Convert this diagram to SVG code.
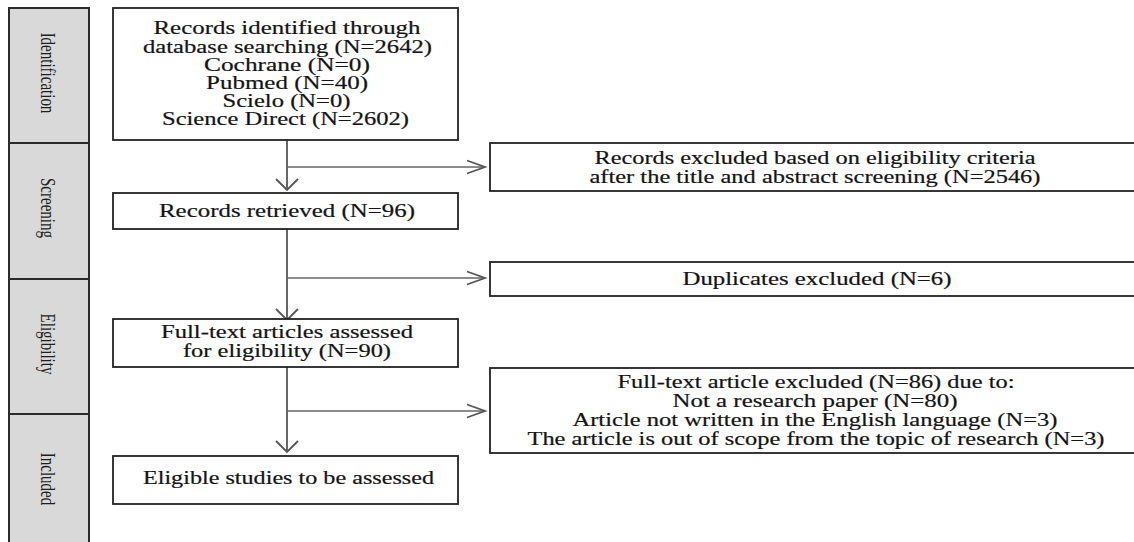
<svg xmlns="http://www.w3.org/2000/svg" width="1134" height="542" viewBox="0 0 1134 542">
<style>
.bg{fill:#ffffff}
.phase{fill:#d9d9d9;stroke:#2b2b2b;stroke-width:2}
.box{fill:#ffffff;stroke:#222222;stroke-width:1.8}
.t{font-family:"Liberation Serif","Times New Roman",serif;font-size:18px;fill:#141414;stroke:#141414;stroke-width:0.2;text-anchor:middle}
.pt{font-family:"Liberation Serif","Times New Roman",serif;font-size:15px;fill:#1e1e1e;text-anchor:middle}
.ln{fill:none;stroke:#666666;stroke-width:2}
.br{fill:none;stroke:#666666;stroke-width:1.6}
.ah{fill:none;stroke:#555555;stroke-width:1.8;stroke-linejoin:miter}
</style>
<rect class="bg" x="0" y="0" width="1134" height="542"/>

<g id="phases">
  <g id="phase-identification">
    <rect class="phase" x="9" y="8" width="80" height="135"/>
    <text class="pt" transform="translate(41,73) rotate(90) scale(1,1.42)">Identification</text>
  </g>
  <g id="phase-screening">
    <rect class="phase" x="9" y="143" width="80" height="136"/>
    <text class="pt" transform="translate(41,208) rotate(90) scale(1,1.42)">Screening</text>
  </g>
  <g id="phase-eligibility">
    <rect class="phase" x="9" y="279" width="80" height="135"/>
    <text class="pt" transform="translate(41,344) rotate(90) scale(1,1.42)">Eligibility</text>
  </g>
  <g id="phase-included">
    <rect class="phase" x="9" y="414" width="80" height="140"/>
    <text class="pt" transform="translate(41,479) rotate(90) scale(1,1.42)">Included</text>
  </g>
</g>

<g id="connectors">
  <line class="ln" x1="287" y1="140" x2="287" y2="189"/>
  <line class="ln" x1="287" y1="229" x2="287" y2="319"/>
  <line class="ln" x1="287" y1="367" x2="287" y2="451"/>
  <line class="br" x1="287" y1="167" x2="485" y2="167"/>
  <line class="br" x1="287" y1="278" x2="485" y2="278"/>
  <line class="br" x1="287" y1="411" x2="485" y2="411"/>
  <polyline class="ah" points="276,179 287,190 298,179"/>
  <polyline class="ah" points="276,309 287,320 298,309"/>
  <polyline class="ah" points="276,441 287,452 298,441"/>
  <polyline class="ah" points="467,160.5 485,167 467,173.5"/>
  <polyline class="ah" points="467,271.5 485,278 467,284.5"/>
  <polyline class="ah" points="467,404.5 485,411 467,417.5"/>
</g>

<g id="node-identified">
  <rect class="box" x="113" y="8" width="345" height="132"/>
  <g transform="scale(1.35,1)">
    <text class="t" x="212.59" y="34.5" textLength="197.8" lengthAdjust="spacingAndGlyphs">Records identified through</text>
    <text class="t" x="212.96" y="52.7" textLength="214.1" lengthAdjust="spacingAndGlyphs">database searching (N=2642)</text>
    <text class="t" x="212.59" y="70.9" textLength="123" lengthAdjust="spacingAndGlyphs">Cochrane (N=0)</text>
    <text class="t" x="212.59" y="89.1" textLength="120" lengthAdjust="spacingAndGlyphs">Pubmed (N=40)</text>
    <text class="t" x="212.22" y="107.3" textLength="94.8" lengthAdjust="spacingAndGlyphs">Scielo (N=0)</text>
    <text class="t" x="211.48" y="125.5" textLength="183" lengthAdjust="spacingAndGlyphs">Science Direct (N=2602)</text>
  </g>
</g>

<g id="node-excluded-screening">
  <rect class="box" x="490" y="143" width="660" height="48"/>
  <g transform="scale(1.35,1)">
    <text class="t" x="603.7" y="164" textLength="326.7" lengthAdjust="spacingAndGlyphs">Records excluded based on eligibility criteria</text>
    <text class="t" x="603.7" y="183" textLength="334.1" lengthAdjust="spacingAndGlyphs">after the title and abstract screening (N=2546)</text>
  </g>
</g>

<g id="node-retrieved">
  <rect class="box" x="113" y="193" width="345" height="36"/>
  <g transform="scale(1.35,1)">
    <text class="t" x="212.59" y="217.5" textLength="189.6" lengthAdjust="spacingAndGlyphs">Records retrieved (N=96)</text>
  </g>
</g>

<g id="node-duplicates">
  <rect class="box" x="490" y="262" width="660" height="34"/>
  <g transform="scale(1.35,1)">
    <text class="t" x="605.19" y="285" textLength="199.3" lengthAdjust="spacingAndGlyphs">Duplicates excluded (N=6)</text>
  </g>
</g>

<g id="node-fulltext">
  <rect class="box" x="113" y="319" width="345" height="48"/>
  <g transform="scale(1.35,1)">
    <text class="t" x="212.59" y="338.5" textLength="186.7" lengthAdjust="spacingAndGlyphs">Full-text articles assessed</text>
    <text class="t" x="212.59" y="357" textLength="154.1" lengthAdjust="spacingAndGlyphs">for eligibility (N=90)</text>
  </g>
</g>

<g id="node-excluded-fulltext">
  <rect class="box" x="490" y="368" width="660" height="85"/>
  <g transform="scale(1.35,1)">
    <text class="t" x="604.44" y="388.5" textLength="294.1" lengthAdjust="spacingAndGlyphs">Full-text article excluded (N=86) due to:</text>
    <text class="t" x="603.7" y="407.5" textLength="211.1" lengthAdjust="spacingAndGlyphs">Not a research paper (N=80)</text>
    <text class="t" x="603.7" y="426" textLength="359.3" lengthAdjust="spacingAndGlyphs">Article not written in the English language (N=3)</text>
    <text class="t" x="604.44" y="445" textLength="427.4" lengthAdjust="spacingAndGlyphs">The article is out of scope from the topic of research (N=3)</text>
  </g>
</g>

<g id="node-included">
  <rect class="box" x="113" y="456" width="345" height="48"/>
  <g transform="scale(1.35,1)">
    <text class="t" x="213.7" y="484" textLength="215.6" lengthAdjust="spacingAndGlyphs">Eligible studies to be assessed</text>
  </g>
</g>
</svg>
